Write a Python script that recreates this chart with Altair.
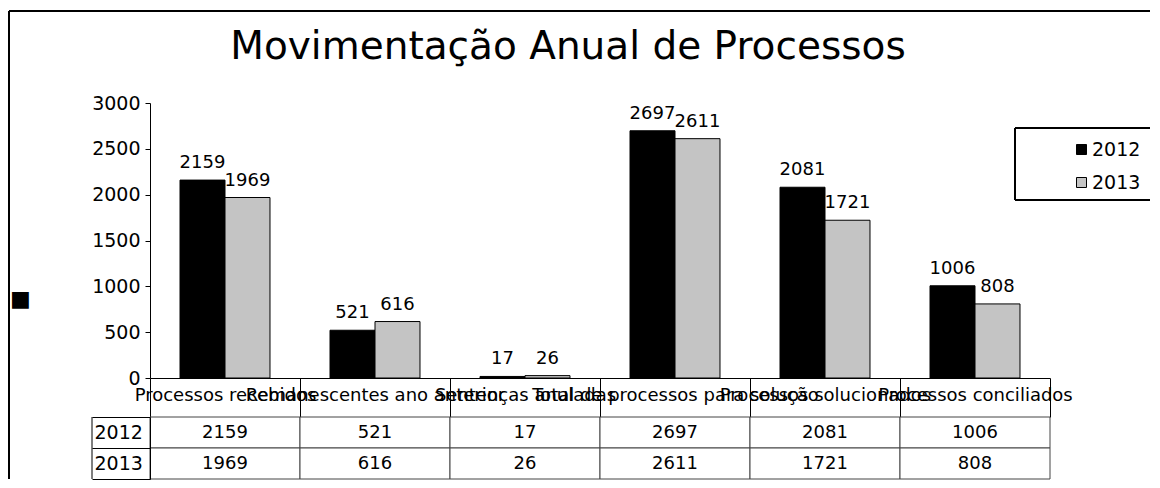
import altair as alt
import pandas as pd

categories = [
    "Processos recebidos",
    "Remanescentes ano anterior",
    "Sentenças anuladas",
    "Total de processos para solução",
    "Processos solucionados",
    "Processos conciliados",
]
years = ["2012", "2013"]
values_2012 = [2159, 521, 17, 2697, 2081, 1006]
values_2013 = [1969, 616, 26, 2611, 1721, 808]
y_ticks = [0, 500, 1000, 1500, 2000, 2500, 3000]
title_text = "Movimentação Anual de Processos"

rows = []
for c, a, b in zip(categories, values_2012, values_2013):
    rows.append({"cat": c, "ano": "2012", "v": a})
    rows.append({"cat": c, "ano": "2013", "v": b})
df = pd.DataFrame(rows)

FONT = "DejaVu Sans"
W, H = 900, 275
TH = 62
GAP = 39

xscale = alt.Scale(domain=categories, paddingInner=0, paddingOuter=0)
colscale = alt.Scale(domain=years, range=["#000000", "#c4c4c4"])

x_enc = alt.X(
    "cat:N", scale=xscale, sort=categories,
    axis=alt.Axis(title=None, labelAngle=0, labelFontSize=18, labelFont=FONT,
                  labelColor="black", labelOverlap=False, labelLimit=0,
                  tickBand="extent", tickSize=GAP, tickColor="black",
                  domainColor="black", labelPadding=-31, labelBaseline="top"),
)
xo_enc = alt.XOffset("ano:N", scale=alt.Scale(domain=years, paddingOuter=0.667, paddingInner=0))
y_enc = alt.Y(
    "v:Q", scale=alt.Scale(domain=[0, 3000]),
    axis=alt.Axis(values=y_ticks, format="d", grid=False, title="■", titleAngle=0,
                  titleX=-130, titleY=195, titleFontSize=22, titleAlign="center",
                  titleBaseline="middle", labelFontSize=19, labelFont=FONT,
                  labelColor="black", tickColor="black", domainColor="black",
                  tickSize=5, labelPadding=5),
)

bars = alt.Chart(df).mark_bar(stroke="black", strokeWidth=1).encode(
    x=x_enc, xOffset=xo_enc, y=y_enc,
    color=alt.Color("ano:N", scale=colscale, legend=alt.Legend(
        orient="none", legendX=922, legendY=37, title=None, symbolType="square",
        symbolSize=100, labelFontSize=19, labelFont=FONT, rowPadding=13,
        labelOffset=1, symbolStrokeColor="black", symbolStrokeWidth=1)),
)
labels = alt.Chart(df).mark_text(fontSize=18, font=FONT, dy=-12, baseline="alphabetic", color="black").encode(
    x=x_enc, xOffset=xo_enc, y=y_enc, text="v:Q"
)

deco = alt.Chart(pd.DataFrame({"t": [title_text]}))
title = deco.mark_text(fontSize=39, font=FONT, align="center", baseline="middle", color="black").encode(
    text="t:N", x=alt.value(418), y=alt.value(-56)
)
border_left = deco.mark_rule(color="black", strokeWidth=2).encode(
    x=alt.value(-141), y=alt.value(-92), y2=alt.value(H + GAP + TH))
border_top = deco.mark_rule(color="black", strokeWidth=2).encode(
    x=alt.value(-141), x2=alt.value(1000), y=alt.value(-92))
lb_top = deco.mark_rule(color="black", strokeWidth=2).encode(
    x=alt.value(865), x2=alt.value(1000), y=alt.value(25))
lb_bottom = deco.mark_rule(color="black", strokeWidth=2).encode(
    x=alt.value(865), x2=alt.value(1000), y=alt.value(97))
lb_left = deco.mark_rule(color="black", strokeWidth=2).encode(
    x=alt.value(865), y=alt.value(25), y2=alt.value(97))

top = alt.layer(border_left, border_top, lb_top, lb_bottom, lb_left, bars, labels, title).properties(width=W, height=H)

tx = alt.X("cat:N", scale=xscale, sort=categories, axis=None)
ty = alt.Y("ano:N", scale=alt.Scale(domain=years, paddingInner=0, paddingOuter=0),
           axis=alt.Axis(title=None, labelFontSize=19, labelFont=FONT, labelColor="black",
                         labelAlign="left", labelPadding=-2, tickBand="extent",
                         tickSize=58, tickColor="black", domainColor="black",
                         labelBaseline="middle"))
cells = alt.Chart(df).mark_rect(fill="white", stroke="#444444", strokeWidth=1).encode(x=tx, y=ty)
cell_text = alt.Chart(df).mark_text(fontSize=18, font=FONT, color="black").encode(x=tx, y=ty, text="v:Q")
head_left = deco.mark_rule(color="black", strokeWidth=1).encode(
    x=alt.value(-58), y=alt.value(0), y2=alt.value(TH))
table = alt.layer(cells, cell_text, head_left).properties(width=W, height=TH)

chart = alt.vconcat(top, table, spacing=GAP, bounds="flush").properties(
    padding={"left": 0, "top": 2, "right": 0, "bottom": 0},
).configure(font=FONT).configure_view(stroke=None)

chart.save("out.html", embed_options={"renderer": "svg", "actions": False})
